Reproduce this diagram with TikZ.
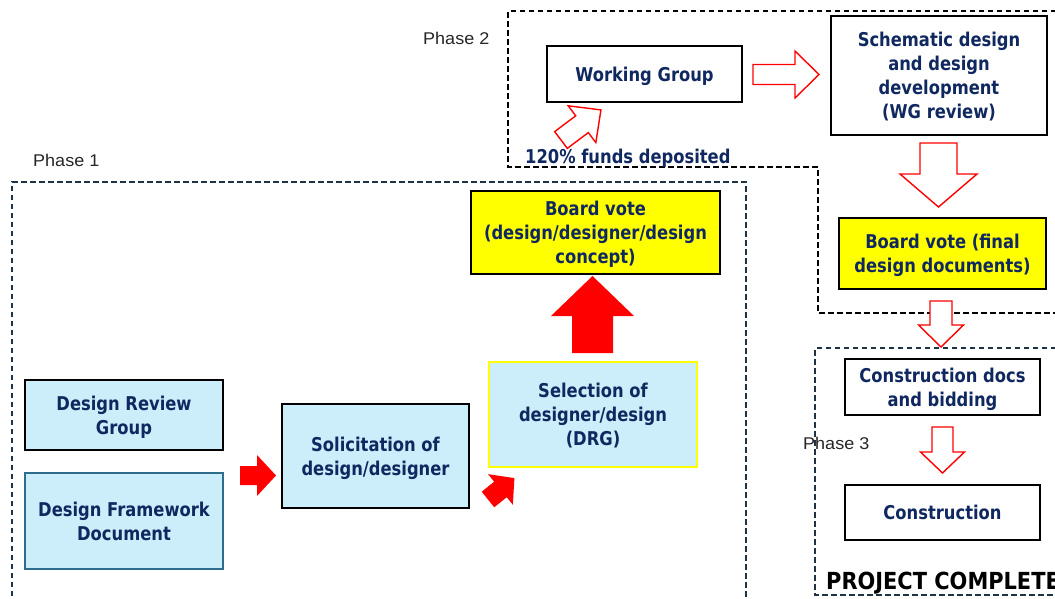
\documentclass[tikz,border=0pt]{standalone}
\usepackage{fontspec}
\newfontfamily\bxf{DejaVu Sans}[FakeStretch=0.86]
\newfontfamily\bigf{DejaVu Sans}[FakeStretch=0.89]
\newfontfamily\phf{Liberation Sans}[FakeStretch=1.06]
\definecolor{navy}{RGB}{16,40,96}
\definecolor{lblue}{RGB}{204,237,250}
\definecolor{yel}{RGB}{255,255,0}
\definecolor{redc}{RGB}{255,0,0}
\definecolor{slate}{RGB}{30,52,70}
\definecolor{tealb}{RGB}{46,110,140}
\newcommand{\barrow}[8]{%
  \draw[#1, shift={(#2,#3)}, rotate=#4] (0,-#6) -- ({#5-#8},-#6) -- ({#5-#8},-#7) -- (#5,0) -- ({#5-#8},#7) -- ({#5-#8},#6) -- (0,#6) -- cycle;}
\begin{document}
\begin{tikzpicture}[x=1pt,y=-1pt,
  box/.style={draw=black, line width=1.3pt, align=center, inner sep=0pt, text=navy,
    text depth=0pt, font=\bxf\bfseries\fontsize{19}{24}\selectfont},
  bluebox/.style={box, fill=lblue},
  yelbox/.style={box, fill=yel},
  whitebox/.style={box, fill=white},
  solidarrow/.style={fill=redc, draw=none},
  hollowarrow/.style={fill=white, draw=redc, line width=1.4pt, line join=miter},
  phaseline/.style={dash pattern=on 5.5pt off 3.5pt, line width=1.2pt},
  phaselabel/.style={font=\phf\fontsize{17}{20}\selectfont, text=black!85, inner sep=0pt},
  bigtext/.style={font=\bxf\bfseries\fontsize{19}{24}\selectfont, text=navy, inner sep=0pt}]
\useasboundingbox (0,0) rectangle (1055,598);
\clip (0,0) rectangle (1055,598);
\fill[white] (0,0) rectangle (1055,598);

% phase outlines
\draw[phaseline, draw=slate] (12,605) -- (12,182) -- (746,182) -- (746,605);
\draw[phaseline, draw=black] (1065,11) -- (508,11) -- (508,167) -- (818,167) -- (818,313) -- (1065,313);
\draw[phaseline, draw=slate] (1065,348) -- (815,348) -- (815,595) -- (1065,595);

% nodes
\node[bluebox, minimum width=198pt, minimum height=70pt] (drg) at (124,415) {Design Review\\Group};
\node[bluebox, draw=tealb, minimum width=198pt, minimum height=96pt] (dfd) at (124,521) {Design Framework\\Document};
\node[bluebox, minimum width=187pt, minimum height=104pt] (sol) at (375.5,456) {Solicitation of\\design/designer};
\node[bluebox, draw=yel, minimum width=208pt, minimum height=105pt] (sel) at (593,414.5) {Selection of\\designer/design\\(DRG)};
\node[yelbox, minimum width=249pt, minimum height=83pt] (bv1) at (595.5,232.5) {Board vote\\(design/designer/design\\concept)};
\node[whitebox, minimum width=195pt, minimum height=56pt] (wg) at (644.5,74) {Working Group};
\node[whitebox, minimum width=216pt, minimum height=119pt] (sch) at (939,75.5) {Schematic design\\and design\\development\\(WG review)};
\node[yelbox, minimum width=207pt, minimum height=71pt] (bv2) at (942.5,253.5) {Board vote (final\\design documents)};
\node[whitebox, minimum width=195pt, minimum height=56pt] (cdb) at (942.5,387) {Construction docs\\and bidding};
\node[whitebox, minimum width=195pt, minimum height=55pt] (con) at (942.5,512.5) {Construction};

% block arrows
\barrow{solidarrow}{240}{475.5}{0}{36}{9.5}{20.5}{19}
\barrow{solidarrow}{488}{499.5}{39}{34}{10}{19.7}{18}
\barrow{solidarrow}{592.5}{353}{90}{77}{20.5}{41.5}{40}
\barrow{hollowarrow}{561}{140}{37}{50}{10.5}{23}{23.7}
\barrow{hollowarrow}{753}{74.5}{0}{66}{10}{23.5}{24}
\barrow{hollowarrow}{938.5}{143}{-90}{64}{18.5}{38.5}{33}
\barrow{hollowarrow}{941}{301}{-90}{46}{11}{22.5}{22}
\barrow{hollowarrow}{942.5}{427}{-90}{46}{10.5}{22}{21}

% labels
\node[phaselabel, anchor=west] (p1) at (33,160) {Phase 1};
\node[phaselabel, anchor=west] (p2) at (423,38) {Phase 2};
\node[phaselabel, anchor=west] (p3) at (803,443) {Phase 3};
\node[bigtext, anchor=base west] (funds) at (525,163) {120\% funds deposited};
\node[font=\bigf\bfseries\fontsize{23.5}{26}\selectfont, text=black, inner sep=0pt, anchor=base west] (done) at (826,589) {PROJECT COMPLETE};
\end{tikzpicture}
\end{document}
